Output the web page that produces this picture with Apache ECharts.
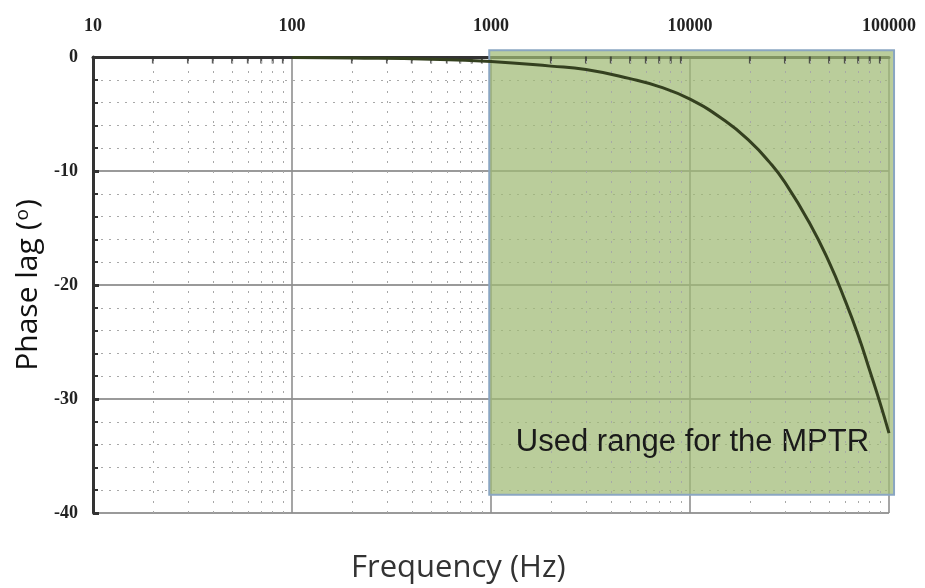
<!DOCTYPE html>
<html>
<head>
<meta charset="utf-8">
<script src="https://cdn.jsdelivr.net/npm/echarts@6/dist/echarts.min.js"></script>
<style>
  html, body { margin: 0; padding: 0; background: #fff; }
  #chart { width: 925px; height: 588px; }
</style>
</head>
<body>
<div id="chart"></div>
<script>
// Phase response of the sensor chain
const freqHz = [100, 200, 500, 1000, 2000, 3000, 5000, 7000, 10000, 15000, 20000, 25000, 30000, 40000, 50000, 60000, 70000, 80000, 90000, 100000];
const phaseDeg = [-0.04, -0.08, -0.19, -0.4, -0.8, -1.1, -1.9, -2.6, -3.7, -5.6, -7.4, -9.2, -11.0, -14.6, -18.0, -21.3, -24.4, -27.5, -30.3, -33.0];

// Decade tick labels along the top axis
const decadeLabels = ['10', '100', '1000', '10000', '100000'];
// Intermediate frequencies for the dotted vertical grid
const minorFreqs = [];
[10, 100, 1000, 10000].forEach(d => { for (let k = 2; k <= 9; k++) minorFreqs.push(d * k); });

// Highlighted band: frequency span and phase span
const bandFreq = [980, 106000];
const bandPhase = [0.6, -38.4];
const bandText = 'Used range for the MPTR';

const chart = echarts.init(document.getElementById('chart'));
chart.setOption({
  animation: false,
  backgroundColor: '#ffffff',
  title: {
    text: 'Frequency (Hz)',
    left: 346,
    top: 548,
    textStyle: { fontFamily: 'Open Sans', fontSize: 31, fontWeight: 'normal', color: '#333' }
  },
  grid: { left: 93, right: 36, top: 57, bottom: 75, outerBoundsMode: 'none', containLabel: false },
  xAxis: {
    type: 'log',
    logBase: 10,
    min: 10,
    max: 100000,
    position: 'top',
    axisLine: { onZero: false, lineStyle: { color: '#333', width: 3 } },
    axisTick: { show: false },
    axisLabel: {
      margin: 22,
      fontFamily: 'Liberation Serif',
      fontWeight: 'bold',
      fontSize: 18,
      color: '#222',
      formatter: v => decadeLabels.includes(String(Math.round(v))) ? String(Math.round(v)) : ''
    },
    splitLine: { show: true, lineStyle: { color: '#8f8f8f', width: 1.6 } }
  },
  yAxis: {
    type: 'value',
    min: -40,
    max: 0,
    interval: 10,
    name: '{t|Phase lag (}{s|o}{t|)}',
    nameLocation: 'middle',
    nameRotate: 90,
    nameGap: 48,
    nameTextStyle: {
      rich: {
        t: { fontFamily: 'Open Sans', fontSize: 30, color: '#111' },
        s: { fontFamily: 'Open Sans', fontSize: 19, color: '#111', padding: [0, 1, 12, 1] }
      }
    },
    axisLine: { onZero: false, lineStyle: { color: '#333', width: 3 } },
    axisTick: { show: true, inside: true, length: 6, lineStyle: { color: '#333', width: 3 } },
    minorTick: { show: true, splitNumber: 5, length: 5, lineStyle: { color: '#333', width: 2 } },
    axisLabel: {
      margin: 15,
      fontFamily: 'Liberation Serif',
      fontWeight: 'bold',
      fontSize: 18,
      color: '#222'
    },
    splitLine: { show: true, lineStyle: { color: '#9a9a9a', width: 2 } },
    minorSplitLine: { show: true, lineStyle: { color: '#a8a8a8', width: 1, type: [2, 6] } }
  },
  series: [
    {
      // dotted vertical grid at 2..9 within each decade
      type: 'line',
      data: [],
      silent: true,
      markLine: {
        silent: true,
        symbol: 'none',
        label: { show: false },
        lineStyle: { color: '#a8a8a8', width: 1, type: [2, 8] },
        data: minorFreqs.map(f => ({ xAxis: f }))
      }
    },
    {
      // short ticks under the top axis
      type: 'scatter',
      silent: true,
      symbol: 'rect',
      symbolSize: [2, 7],
      symbolOffset: [0, 3],
      itemStyle: { color: '#333' },
      data: minorFreqs.map(f => [f, 0]),
      z: 4
    },
    {
      // shaded band marking the used frequency range
      type: 'custom',
      silent: true,
      clip: false,
      z: 3,
      data: [[bandFreq[0], bandPhase[0], bandFreq[1], bandPhase[1]]],
      renderItem: (params, api) => {
        const p0 = api.coord([api.value(0), api.value(1)]);
        const p1 = api.coord([api.value(2), api.value(3)]);
        return {
          type: 'group',
          children: [
            {
              type: 'rect',
              shape: { x: p0[0], y: p0[1], width: p1[0] - p0[0], height: p1[1] - p0[1] },
              style: { fill: 'rgba(160,186,116,0.72)', stroke: '#8aa6c2', lineWidth: 2 }
            },
            {
              type: 'text',
              x: p1[0] - 25,
              y: p1[1] - 52,
              style: {
                text: bandText,
                fontFamily: 'Liberation Sans',
                fontSize: 31,
                fill: '#1a1a1a',
                align: 'right',
                verticalAlign: 'middle'
              }
            }
          ]
        };
      }
    },
    {
      type: 'line',
      name: 'Phase',
      data: freqHz.map((f, i) => [f, phaseDeg[i]]),
      showSymbol: false,
      smooth: true,
      clip: false,
      lineStyle: { color: '#34401f', width: 3 },
      z: 5
    }
  ]
});
</script>
</body>
</html>
